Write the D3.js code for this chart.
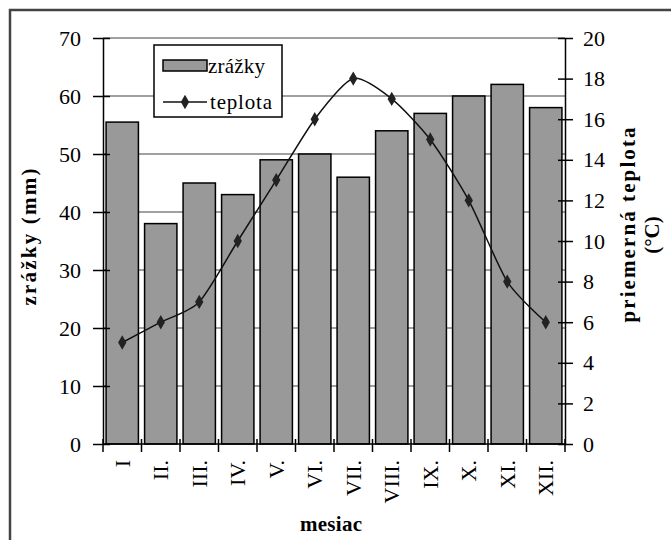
<!DOCTYPE html>
<html><head><meta charset="utf-8">
<script src="https://cdn.jsdelivr.net/npm/d3@7/dist/d3.min.js"></script>
<style>
html,body{margin:0;padding:0;background:#fff;}
svg{display:block;}
text{font-family:"Liberation Serif","Times New Roman",serif;fill:#000;}
</style></head>
<body>
<script>
const months = ["I","II.","III.","IV.","V.","VI.","VII.","VIII.","IX.","X.","XI.","XII."];
const precipitation = [55.5,38,45,43,49,50,46,54,57,60,62,58];
const temperature = [5,6,7,10,13,16,18,17,15,12,8,6];
const leftTicks = [0,10,20,30,40,50,60,70];
const rightTicks = [0,2,4,6,8,10,12,14,16,18,20];

const W = 671, H = 540;
const FONT = "Liberation Serif";
const svg = d3.select("body").append("svg").attr("width", W).attr("height", H);

// outer border
svg.append("path").attr("d", `M10,${H+5} L10,10 L${W+5},10`)
  .attr("fill","none").attr("stroke","#444").attr("stroke-width",2.5);

const L = 103, R = 565, T = 38, B = 444;
const x = d3.scaleBand().domain(months).range([L, R]).paddingInner(0.16).paddingOuter(0.08);
const yL = d3.scaleLinear().domain([0,70]).range([B, T]);
const yR = d3.scaleLinear().domain([0,20]).range([B, T]);

// gridlines
svg.append("g").selectAll("line").data(leftTicks.filter(d=>d>0)).join("line")
  .attr("x1", L).attr("x2", R).attr("y1", d=>yL(d)).attr("y2", d=>yL(d))
  .attr("stroke","#a0a0a0").attr("stroke-width",1.8);

// bars
svg.append("g").selectAll("rect").data(precipitation).join("rect")
  .attr("x", (d,i)=>x(months[i])).attr("width", x.bandwidth())
  .attr("y", d=>yL(d)).attr("height", d=>B - yL(d))
  .attr("fill","#999999").attr("stroke","#000").attr("stroke-width",1.5);

// left axis
const gL = svg.append("g").attr("transform",`translate(${L},0)`)
  .call(d3.axisLeft(yL).tickValues(leftTicks).tickSizeInner(10).tickSizeOuter(0).tickPadding(12));
gL.selectAll(".tick line").attr("x2", 7).attr("x1",-10).attr("stroke-width",1.5);
gL.select(".domain").attr("stroke-width",1.5);
gL.selectAll("text").attr("font-size",22).attr("font-family",FONT);

// right axis
const gR = svg.append("g").attr("transform",`translate(${R},0)`)
  .call(d3.axisRight(yR).tickValues(rightTicks).tickSizeInner(8).tickSizeOuter(0).tickPadding(10));
gR.selectAll(".tick line").attr("x1", -7).attr("x2",8).attr("stroke-width",1.5);
gR.select(".domain").attr("stroke-width",1.5);
gR.selectAll("text").attr("font-size",22).attr("font-family",FONT);

// x axis
const step = x.step();
const bounds = d3.range(months.length+1).map(i => L + i*step);
svg.append("line").attr("x1",L).attr("x2",R).attr("y1",B).attr("y2",B)
  .attr("stroke","#000").attr("stroke-width",1.5);
svg.append("g").selectAll("line").data(bounds).join("line")
  .attr("x1", d=>d).attr("x2", d=>d).attr("y1", B-5).attr("y2", B+8)
  .attr("stroke","#000").attr("stroke-width",1.5);
svg.append("g").selectAll("text").data(months).join("text")
  .attr("transform", d=>`translate(${x(d)+x.bandwidth()/2},460) rotate(-90)`)
  .attr("text-anchor","end").attr("dy","0.35em")
  .attr("font-family",FONT).attr("font-size",22).text(d=>d);

// temperature line
const line = d3.line().x((d,i)=>x(months[i])+x.bandwidth()/2).y(d=>yR(d)).curve(d3.curveCardinal.tension(0.3));
svg.append("path").datum(temperature).attr("d", line)
  .attr("fill","none").attr("stroke","#111").attr("stroke-width",1.5);
const diamond = d3.symbol().type(d3.symbolDiamond).size(60);
svg.append("g").selectAll("path").data(temperature).join("path")
  .attr("transform",(d,i)=>`translate(${x(months[i])+x.bandwidth()/2},${yR(d)})`)
  .attr("d", diamond).attr("fill","#222");

// axis titles
function label(tx, ty, rot, txt, size, len, bold) {
  const t = svg.append("text").attr("transform",`translate(${tx},${ty}) rotate(${rot})`)
    .attr("text-anchor","middle").attr("font-family",FONT).attr("font-size",size)
    .attr("font-weight", bold ? "bold" : "normal").text(txt);
  if (len) t.attr("textLength", len).attr("lengthAdjust","spacing");
  return t;
}
label(36, 237, -90, "zrážky (mm)", 21, 137, true);
label(635, 225, -90, "priemerná teplota", 21, 195, true);
label(659, 235, -90, "(°C)", 21, 0, true);
label(331, 531, 0, "mesiac", 21, 62, true);

// legend
const lg = svg.append("g");
lg.append("rect").attr("x",154).attr("y",45).attr("width",128).attr("height",72)
  .attr("fill","#fff").attr("stroke","#000").attr("stroke-width",1.5);
lg.append("rect").attr("x",163).attr("y",60).attr("width",44).attr("height",11)
  .attr("fill","#999999").attr("stroke","#000").attr("stroke-width",1.5);
lg.append("text").attr("x",208).attr("y",73).attr("font-family",FONT).attr("font-size",21)
  .attr("textLength",57).attr("lengthAdjust","spacing").text("zrážky");
lg.append("line").attr("x1",163).attr("x2",207).attr("y1",102).attr("y2",102)
  .attr("stroke","#111").attr("stroke-width",1.5);
lg.append("path").attr("transform","translate(185,102)").attr("d",diamond).attr("fill","#222");
lg.append("text").attr("x",210).attr("y",109).attr("font-family",FONT).attr("font-size",21)
  .attr("textLength",62).attr("lengthAdjust","spacing").text("teplota");
</script>
</body></html>
